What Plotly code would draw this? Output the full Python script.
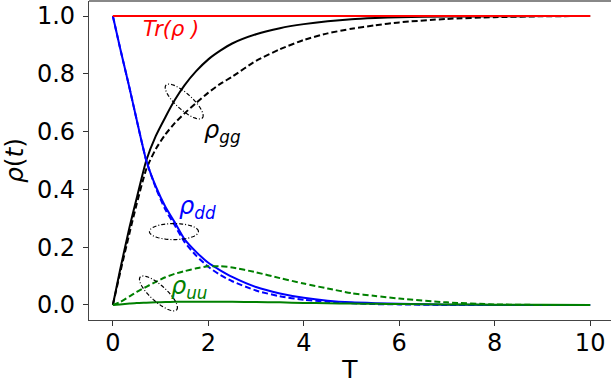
import numpy as np
import plotly.graph_objects as go

# time axis (T) and populations
T = [0, 0.15, 0.35, 0.5, 0.7, 0.9, 1.1, 1.3, 1.5, 1.75, 2, 2.25, 2.5,
     3, 3.5, 4, 4.5, 5, 5.5, 6, 7, 8, 9, 10]

tr_solid = [1.0] * len(T)
tr_dashed = [1.0] * len(T)

gg_solid = [0, 0.12, 0.27, 0.37, 0.50, 0.585, 0.65, 0.71, 0.76, 0.81, 0.85, 0.88, 0.905,
            0.937, 0.958, 0.972, 0.982, 0.989, 0.993, 0.996, 0.998, 0.999, 1.0, 1.0]
gg_dashed = [0, 0.11, 0.25, 0.35, 0.47, 0.54, 0.59, 0.63, 0.663, 0.70, 0.735, 0.765, 0.79,
             0.845, 0.885, 0.917, 0.94, 0.956, 0.968, 0.978, 0.99, 0.996, 0.999, 1.0]

dd_solid = [1, 0.89, 0.75, 0.64, 0.50, 0.41, 0.34, 0.285, 0.228, 0.183, 0.146, 0.12, 0.097,
            0.062, 0.04, 0.025, 0.015, 0.009, 0.006, 0.004, 0.001, 0, 0, 0]
dd_dashed = [1, 0.89, 0.75, 0.64, 0.50, 0.405, 0.33, 0.275, 0.218, 0.17, 0.132, 0.104, 0.082,
             0.05, 0.03, 0.018, 0.011, 0.006, 0.003, 0.002, 0, 0, 0, 0]

uu_solid = [0, 0.002, 0.005, 0.007, 0.008, 0.009, 0.010, 0.011, 0.011, 0.011, 0.011, 0.011, 0.011,
            0.010, 0.009, 0.007, 0.006, 0.005, 0.004, 0.003, 0.002, 0.001, 0.0005, 0]
uu_dashed = [0, 0.01, 0.03, 0.045, 0.063, 0.08, 0.096, 0.108, 0.117, 0.127, 0.134, 0.134, 0.13,
             0.113, 0.093, 0.074, 0.057, 0.041, 0.031, 0.022, 0.009, 0.002, 0, 0]

x_ticks = [0, 2, 4, 6, 8, 10]
y_ticks = [0, 0.2, 0.4, 0.6, 0.8, 1.0]

W, H = 611, 384
ML, MR, MT, MB = 89, 0, 1, 64
XR = [-0.5, 10.437]
YR = [-0.052, 1.052]
sx = (W - ML - MR) / (XR[1] - XR[0])   # px per unit T
sy = (H - MT - MB) / (YR[1] - YR[0])   # px per unit rho

FONT = "DejaVu Sans"
DASH = "6px,3px"

fig = go.Figure()

def add_line(y, color, dash):
    fig.add_trace(go.Scatter(x=T, y=y, mode="lines", line_shape="spline",
                             line=dict(color=color, width=2, dash=dash,
                                       smoothing=0.6),
                             showlegend=False, hoverinfo="skip"))

add_line(gg_solid, "black", "solid")
add_line(gg_dashed, "black", DASH)
add_line(dd_solid, "#0000ff", "solid")
add_line(dd_dashed, "#0000ff", DASH)
add_line(uu_solid, "#008000", "solid")
add_line(uu_dashed, "#008000", DASH)
add_line(tr_solid, "#ff0000", "solid")
add_line(tr_dashed, "#ff0000", DASH)


def ellipse_path(tc, yc, a, b, ang):
    # a, b are semi-axes in screen pixels, ang in degrees
    th = np.radians(ang)
    t = np.linspace(0, 2 * np.pi, 73)
    ex = a * np.cos(t) * np.cos(th) - b * np.sin(t) * np.sin(th)
    ey = a * np.cos(t) * np.sin(th) + b * np.sin(t) * np.cos(th)
    xs = tc + ex / sx
    ys = yc + ey / sy
    pts = [f"{x:.4f},{y:.4f}" for x, y in zip(xs, ys)]
    return "M " + " L ".join(pts) + " Z"


ellipses = [(1.494, 0.704, -42), (1.28, 0.254, 0), (0.955, 0.040, -42)]
for tc, yc, ang in ellipses:
    fig.add_shape(type="path", path=ellipse_path(tc, yc, 24.5, 8, ang),
                  xref="x", yref="y",
                  line=dict(color="black", width=1.2, dash="4px,2px,1px,2px"))

# top spine
fig.add_shape(type="line", xref="paper", yref="paper", x0=0, x1=1, y0=1, y1=1,
              line=dict(color="#888", width=2))

labels = [
    (1.22, 0.955, "<i>Tr(ρ )</i>", "#ff0000", 21),
    (2.29, 0.602, "<i>ρ</i><sub><i>gg</i></sub>", "black", 24),
    (1.77, 0.339, "<i>ρ</i><sub><i>dd</i></sub>", "#0000ff", 24),
    (1.60, 0.062, "<i>ρ</i><sub><i>uu</i></sub>", "#008000", 24),
]
for x, y, txt, col, sz in labels:
    fig.add_annotation(x=x, y=y, text=txt, showarrow=False,
                       font=dict(family=FONT, size=sz, color=col))

fig.update_xaxes(range=XR, tickvals=x_ticks, ticks="outside", ticklen=5,
                 tickwidth=1, tickcolor="#333", showline=True, linecolor="#444",
                 linewidth=1.3, showgrid=False, zeroline=False, automargin=False,
                 tickfont=dict(family=FONT, size=24, color="black"),
                 ticklabelstandoff=-4,
                 title=dict(text="T", font=dict(family=FONT, size=25, color="black"),
                            standoff=6))
fig.update_yaxes(range=YR, tickvals=y_ticks, tickformat=".1f", ticks="outside",
                 ticklen=5, tickwidth=1, tickcolor="#333", showline=True,
                 linecolor="#444", linewidth=1.3, showgrid=False, zeroline=False,
                 automargin=False,
                 tickfont=dict(family=FONT, size=24, color="black"),
                 ticklabelstandoff=3,
                 title=dict(text="<i>ρ</i>(<i>t</i>)",
                            font=dict(family=FONT, size=25, color="black"),
                            standoff=6))

fig.update_layout(width=W, height=H, margin=dict(l=ML, r=MR, t=MT, b=MB),
                  plot_bgcolor="white", paper_bgcolor="white",
                  font=dict(family=FONT))

# drop the page's default body margin so the figure sits at the window corner
fig.write_html("out.html", config={"displayModeBar": False},
               post_script="document.body.style.margin='0';")
